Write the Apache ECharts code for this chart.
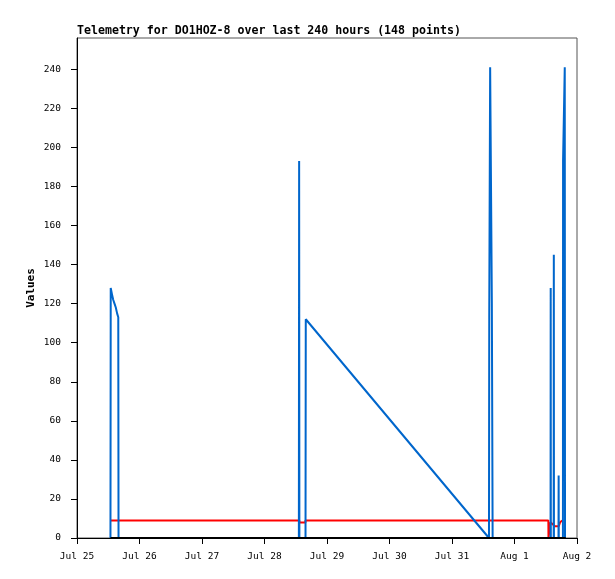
<!DOCTYPE html>
<html>
<head>
<meta charset="utf-8">
<script src="https://cdn.jsdelivr.net/npm/echarts@6/dist/echarts.min.js"></script>
<style>
html,body{margin:0;padding:0;background:#fff;}
#chart{width:615px;height:579px;}
</style>
</head>
<body>
<div id="chart"></div>
<script>
// hours after Jul 25 00:00
var blueHours  = [12.85, 12.95, 13.4, 13.9, 14.4, 14.9, 15.4, 15.85, 15.95, 85.2, 85.3, 85.4, 87.75, 87.85, 158.2, 158.3, 158.65, 159.3, 159.6, 181.85, 181.9, 181.95, 183.05, 183.1, 183.15, 184.9, 184.95, 185.0, 186.6, 186.65, 187.3, 187.4];
var blueValues = [0, 128, 125, 122, 120, 118, 115, 113, 0, 0, 193, 0, 0, 112, 0, 113, 241, 121, 0, 0, 128, 0, 0, 145, 0, 0, 32, 0, 0, 193, 241, 0];

var redHours  = [13.0, 85.35, 85.4, 87.7, 87.75, 181.0, 181.05, 181.7, 181.8, 182.7, 183.5, 185.0, 185.5, 186.3];
var redValues = [9, 9, 7.9, 7.9, 9, 9, 0, 0, 8, 7, 6, 6, 8, 9];

var blackHours  = [12.85, 187.7];
var blackValues = [0, 0];

var yTicks = [0, 20, 40, 60, 80, 100, 120, 140, 160, 180, 200, 220, 240];
var dayLabels = ['Jul 25', 'Jul 26', 'Jul 27', 'Jul 28', 'Jul 29', 'Jul 30', 'Jul 31', 'Aug 1', 'Aug 2'];

function pairs(hours, vals) {
	var out = [];
	for (var i = 0; i < hours.length; i++) {
		out.push([hours[i], vals[i]]);
	}
	return out;
}

var mono = '"DejaVu Sans Mono", monospace';
var myChart = echarts.init(document.getElementById('chart'));
var option = {
	animation: false,
	backgroundColor: '#fff',
	title: {
		text: 'Telemetry for DO1HOZ-8 over last 240 hours (148 points)',
		left: 77,
		top: 25,
		padding: 0,
		textStyle: { fontFamily: mono, fontSize: 11.6, fontWeight: 'bold', color: '#000' }
	},
	grid: {
		left: 77, right: 38, top: 38, bottom: 41,
		show: true, borderColor: '#555', borderWidth: 1
	},
	xAxis: {
		type: 'value',
		min: 0,
		max: 192,
		interval: 24,
		axisLine: { show: true, onZero: false, lineStyle: { color: '#000', width: 1 } },
		axisTick: { show: true, length: 6, lineStyle: { color: '#000' } },
		axisLabel: {
			margin: 14,
			fontFamily: mono, fontSize: 9.5, color: '#000',
			formatter: function (v) {
				return dayLabels[Math.round(v / 24)] || '';
			}
		},
		splitLine: { show: false }
	},
	yAxis: {
		type: 'value',
		min: 0,
		max: 256,
		name: 'Values',
		nameLocation: 'middle',
		nameRotate: 90,
		nameGap: 40,
		nameMoveOverlap: false,
		nameTextStyle: { fontFamily: mono, fontSize: 11, fontWeight: 'bold', color: '#000' },
		axisLine: { show: true, lineStyle: { color: '#000', width: 1 } },
		axisTick: { show: true, customValues: yTicks, length: 6, lineStyle: { color: '#000' } },
		axisLabel: { customValues: yTicks, margin: 16, fontFamily: mono, fontSize: 9.5, color: '#000' },
		splitLine: { show: false }
	},
	series: [
		{
			name: 'red', type: 'line', showSymbol: false, z: 2,
			data: pairs(redHours, redValues),
			lineStyle: { color: '#ff0000', width: 2 }, itemStyle: { color: '#ff0000' }
		},
		{
			name: 'blue', type: 'line', showSymbol: false, z: 3,
			data: pairs(blueHours, blueValues),
			lineStyle: { color: '#0066cc', width: 2 }, itemStyle: { color: '#0066cc' }
		},
		{
			name: 'black', type: 'line', showSymbol: false, z: 4,
			data: pairs(blackHours, blackValues),
			lineStyle: { color: '#000', width: 2 }, itemStyle: { color: '#000' }
		}
	]
};
myChart.setOption(option);
</script>
</body>
</html>
